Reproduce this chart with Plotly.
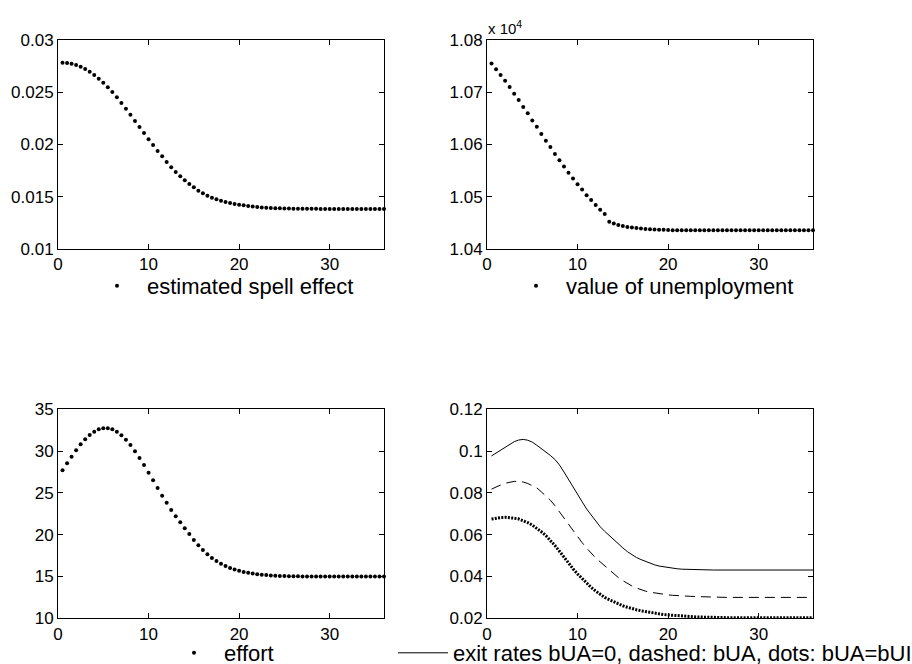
import plotly.graph_objects as go

# Spell duration in months (half-month steps)
months = [0.5 * k for k in range(1, 73)]

spell_effect = [
    0.02783, 0.02780, 0.02773, 0.02761, 0.02745, 0.02722, 0.02697, 0.02665, 0.02630, 0.02591,
    0.02547, 0.02502, 0.02451, 0.02397, 0.02343, 0.02285, 0.02225, 0.02167, 0.02110, 0.02050,
    0.01995, 0.01938, 0.01887, 0.01833, 0.01782, 0.01737, 0.01696, 0.01657, 0.01622, 0.01590,
    0.01558, 0.01533, 0.01510, 0.01491, 0.01475, 0.01462, 0.01450, 0.01440, 0.01431, 0.01424,
    0.01418, 0.01411, 0.01406, 0.01402, 0.01398, 0.01395, 0.01393, 0.01391, 0.01389, 0.01388,
    0.01387, 0.01386, 0.01385, 0.01385, 0.01384, 0.01384, 0.01384, 0.01383, 0.01383, 0.01383,
    0.01383, 0.01383, 0.01383, 0.01383, 0.01383, 0.01383, 0.01383, 0.01383, 0.01383, 0.01383,
    0.01383, 0.01383,
]

value_unemployment = [
    10755, 10744, 10733, 10722, 10710, 10697, 10685, 10672, 10660, 10646,
    10634, 10620, 10607, 10595, 10582, 10570, 10558, 10546, 10535, 10524,
    10514, 10503, 10494, 10484, 10475, 10467, 10452, 10449, 10446, 10444,
    10442, 10441, 10440, 10439, 10438.5, 10438, 10437.5, 10437, 10437, 10436.5,
    10436, 10436, 10436, 10436, 10436, 10436, 10436, 10436, 10436, 10436,
    10436, 10436, 10436, 10436, 10436, 10436, 10436, 10436, 10436, 10436,
    10436, 10436, 10436, 10436, 10436, 10436, 10436, 10436, 10436, 10436,
    10436, 10436,
]

effort = [
    27.70, 28.54, 29.33, 30.09, 30.81, 31.41, 31.93, 32.32, 32.61, 32.73,
    32.73, 32.61, 32.32, 31.89, 31.36, 30.73, 29.98, 29.17, 28.34, 27.42,
    26.51, 25.59, 24.67, 23.83, 22.96, 22.20, 21.48, 20.78, 20.07, 19.38,
    18.74, 18.16, 17.65, 17.21, 16.84, 16.53, 16.26, 16.03, 15.84, 15.68,
    15.55, 15.44, 15.35, 15.28, 15.22, 15.17, 15.13, 15.10, 15.07, 15.05,
    15.04, 15.03, 15.02, 15.01, 15.00, 15.00, 15.00, 15.00, 15.00, 15.00,
    15.00, 15.00, 15.00, 15.00, 15.00, 15.00, 15.00, 15.00, 15.00, 15.00,
    15.00, 15.00,
]

exit_bua_zero = [
    0.0977, 0.0990, 0.1004, 0.1019, 0.1033, 0.1045, 0.1053, 0.1056, 0.1052, 0.1043,
    0.1028, 0.1012, 0.0997, 0.0979, 0.0960, 0.0934, 0.0900, 0.0866, 0.0830, 0.0794,
    0.0758, 0.0723, 0.0693, 0.0664, 0.0638, 0.0616, 0.0595, 0.0575, 0.0556, 0.0537,
    0.0519, 0.0503, 0.0491, 0.0481, 0.0472, 0.0463, 0.0456, 0.0450, 0.0446, 0.0442,
    0.0439, 0.0437, 0.0435, 0.0434, 0.0433, 0.0432, 0.0432, 0.0431, 0.0431, 0.0431,
    0.0431, 0.0431, 0.0431, 0.0431, 0.0431, 0.0431, 0.0431, 0.0431, 0.0431, 0.0431,
    0.0431, 0.0431, 0.0431, 0.0431, 0.0431, 0.0431, 0.0431, 0.0431, 0.0431, 0.0431,
    0.0431, 0.0431,
]

exit_bua = [
    0.0818, 0.0829, 0.0838, 0.0846, 0.0852, 0.0855, 0.0855, 0.0852, 0.0845, 0.0835,
    0.0824, 0.0805, 0.0786, 0.0765, 0.0739, 0.0709, 0.0680, 0.0650, 0.0619, 0.0589,
    0.0562, 0.0536, 0.0511, 0.0489, 0.0470, 0.0451, 0.0432, 0.0411, 0.0395, 0.0380,
    0.0366, 0.0355, 0.0345, 0.0337, 0.0330, 0.0325, 0.0321, 0.0317, 0.0314, 0.0312,
    0.0310, 0.0308, 0.0307, 0.0306, 0.0305, 0.0304, 0.0303, 0.0302, 0.0302, 0.0301,
    0.0301, 0.0301, 0.0300, 0.0300, 0.0300, 0.0300, 0.0300, 0.0300, 0.0300, 0.0300,
    0.0300, 0.0300, 0.0300, 0.0300, 0.0300, 0.0300, 0.0300, 0.0300, 0.0300, 0.0300,
    0.0300, 0.0300,
]

exit_bua_bui = [
    0.0675, 0.0679, 0.0682, 0.0683, 0.0682, 0.0679, 0.0675, 0.0667, 0.0658, 0.0646,
    0.0631, 0.0614, 0.0596, 0.0574, 0.0548, 0.0521, 0.0492, 0.0463, 0.0437, 0.0412,
    0.0389, 0.0367, 0.0348, 0.0330, 0.0314, 0.0300, 0.0289, 0.0278, 0.0268, 0.0260,
    0.0253, 0.0246, 0.0241, 0.0236, 0.0232, 0.0228, 0.0224, 0.0221, 0.0218, 0.0216,
    0.0214, 0.0212, 0.0210, 0.0209, 0.0208, 0.0207, 0.0206, 0.0205, 0.0205, 0.0204,
    0.0204, 0.0203, 0.0203, 0.0203, 0.0203, 0.0203, 0.0203, 0.0203, 0.0203, 0.0203,
    0.0203, 0.0203, 0.0203, 0.0203, 0.0203, 0.0203, 0.0203, 0.0203, 0.0203, 0.0203,
    0.0203, 0.0203,
]

x_ticks = [0, 10, 20, 30]
spell_ticks = [0.01, 0.015, 0.02, 0.025, 0.03]
spell_labels = ["0.01", "0.015", "0.02", "0.025", "0.03"]
value_ticks = [10400, 10500, 10600, 10700, 10800]
value_labels = ["1.04", "1.05", "1.06", "1.07", "1.08"]
effort_ticks = [10, 15, 20, 25, 30, 35]
effort_labels = ["10", "15", "20", "25", "30", "35"]
exit_ticks = [0.02, 0.04, 0.06, 0.08, 0.10, 0.12]
exit_labels = ["0.02", "0.04", "0.06", "0.08", "0.1", "0.12"]

FONT = "Liberation Sans, Arial, Helvetica, sans-serif"
W, H = 912, 664

def px_x(p):
    return p / W

def px_y(p):
    return 1 - p / H

dot_marker = dict(color="black", size=4)

fig = go.Figure()

fig.add_trace(go.Scatter(x=months, y=spell_effect, mode="markers", marker=dot_marker,
                         name="estimated spell effect", xaxis="x", yaxis="y",
                         legend="legend", cliponaxis=False))
fig.add_trace(go.Scatter(x=months, y=value_unemployment, mode="markers", marker=dot_marker,
                         name="value of unemployment", xaxis="x2", yaxis="y2",
                         legend="legend2", cliponaxis=False))
fig.add_trace(go.Scatter(x=months, y=effort, mode="markers", marker=dot_marker,
                         name="effort", xaxis="x3", yaxis="y3",
                         legend="legend3", cliponaxis=False))
fig.add_trace(go.Scatter(x=months, y=exit_bua_zero, mode="lines",
                         line=dict(color="black", width=1),
                         name="exit rates bUA=0, dashed: bUA, dots: bUA=bUI",
                         xaxis="x4", yaxis="y4", legend="legend4"))
fig.add_trace(go.Scatter(x=months, y=exit_bua, mode="lines",
                         line=dict(color="black", width=1, dash="10px,6px"),
                         showlegend=False, xaxis="x4", yaxis="y4"))
fig.add_trace(go.Scatter(x=months, y=exit_bua_bui, mode="lines",
                         line=dict(color="black", width=3, dash="2px,1.3px"),
                         showlegend=False, xaxis="x4", yaxis="y4"))

left_dom = [px_x(58), px_x(384)]
right_dom = [px_x(487), px_x(813)]
top_dom = [px_y(249), px_y(40)]
bottom_dom = [px_y(618.3), px_y(409.3)]

def xaxis(domain, anchor):
    return dict(domain=domain, anchor=anchor, range=[0, 36], tickvals=x_ticks,
                ticks="inside", ticklen=5, tickcolor="black", showline=True,
                linecolor="black", linewidth=1, mirror="ticks", showgrid=False,
                zeroline=False, tickfont=dict(family=FONT, size=17, color="black"))

def yaxis(domain, anchor, rng, vals, labels):
    return dict(domain=domain, anchor=anchor, range=rng, tickvals=vals, ticktext=labels,
                ticks="inside", ticklen=5, tickcolor="black", showline=True,
                linecolor="black", linewidth=1, mirror="ticks", showgrid=False,
                zeroline=False, tickfont=dict(family=FONT, size=17, color="black"))

def legend_at(x, y):
    return dict(x=x, y=y, xanchor="left", yanchor="middle", orientation="v",
                bgcolor="rgba(0,0,0,0)", borderwidth=0, itemwidth=50,
                font=dict(family=FONT, size=22, color="black"))

fig.update_layout(
    width=W, height=H,
    margin=dict(l=0, r=0, t=0, b=0, autoexpand=False),
    paper_bgcolor="white", plot_bgcolor="white",
    xaxis=xaxis(left_dom, "y"),
    yaxis=yaxis(top_dom, "x", [0.01, 0.03], spell_ticks, spell_labels),
    xaxis2=xaxis(right_dom, "y2"),
    yaxis2=yaxis(top_dom, "x2", [10400, 10800], value_ticks, value_labels),
    xaxis3=xaxis(left_dom, "y3"),
    yaxis3=yaxis(bottom_dom, "x3", [10, 35], effort_ticks, effort_labels),
    xaxis4=xaxis(right_dom, "y4"),
    yaxis4=yaxis(bottom_dom, "x4", [0.02, 0.12], exit_ticks, exit_labels),
    legend=legend_at(px_x(87), px_y(286)),
    legend2=legend_at(px_x(506), px_y(286)),
    legend3=legend_at(px_x(164), px_y(653)),
    legend4=legend_at(px_x(393), px_y(653)),
    annotations=[dict(text="x 10<sup>4</sup>", xref="paper", yref="paper",
                      x=px_x(486), y=px_y(39), xanchor="left", yanchor="bottom",
                      showarrow=False, font=dict(family=FONT, size=15, color="black"))],
)

fig.write_html("out.html")
